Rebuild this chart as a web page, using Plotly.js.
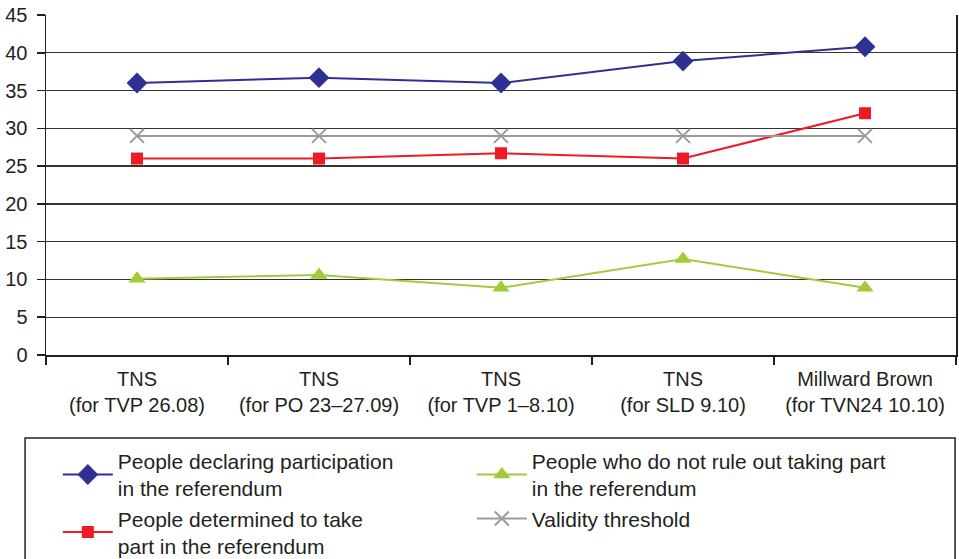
<!DOCTYPE html>
<html>
<head>
<meta charset="utf-8">
<script src="https://cdn.plot.ly/plotly-3.0.1.min.js"></script>
<style>html,body{margin:0;padding:0;background:#fff;}#chart{width:959px;height:559px;}</style>
</head>
<body>
<div id="chart"></div>
<script>
var categories = ["TNS<br>(for TVP 26.08)", "TNS<br>(for PO 23–27.09)", "TNS<br>(for TVP 1–8.10)", "TNS<br>(for SLD 9.10)", "Millward Brown<br>(for TVN24 10.10)"];
var declaring = [36, 36.7, 36, 38.9, 40.8];
var determined = [26, 26, 26.7, 26, 32];
var notRuleOut = [10.1, 10.6, 8.9, 12.7, 8.9];
var threshold = [29, 29, 29, 29, 29];
var yTicks = [0, 5, 10, 15, 20, 25, 30, 35, 40, 45];

var traces = [
  {x: categories, y: declaring, name: "People declaring participation<br>in the referendum", mode: "lines+markers",
   line: {color: "#2e3192", width: 2}, marker: {symbol: "diamond", size: 16, color: "#2e3192"}},
  {x: categories, y: notRuleOut, name: "People who do not rule out taking part<br>in the referendum", mode: "lines+markers",
   line: {color: "#a2cb3a", width: 2}, marker: {symbol: "triangle-up", size: 15, color: "#a2cb3a"}},
  {x: categories, y: determined, name: "People determined to take<br>part in the referendum", mode: "lines+markers",
   line: {color: "#ed1c24", width: 2}, marker: {symbol: "square", size: 12, color: "#ed1c24"}},
  {x: categories, y: threshold, name: "Validity threshold", mode: "lines+markers",
   line: {color: "#9b9b9b", width: 2}, marker: {symbol: "x-thin-open", size: 14, color: "#9b9b9b", line: {color: "#9b9b9b", width: 2}}}
];

var layout = {
  width: 959, height: 559,
  margin: {l: 46, r: 3, t: 15, b: 204, autoexpand: false},
  paper_bgcolor: "#fff", plot_bgcolor: "#fff",
  font: {family: "Liberation Sans, Arial, sans-serif", size: 20, color: "#231f20"},
  showlegend: true,
  xaxis: {type: "category", range: [-0.5, 4.5], showgrid: false, showline: true, linecolor: "#231f20", linewidth: 1.5,
          ticks: "outside", tickson: "boundaries", ticklen: 8, tickwidth: 1.5, tickcolor: "#231f20",
          ticklabelstandoff: 5, tickfont: {size: 20}, automargin: false, fixedrange: true},
  yaxis: {range: [0, 45], tickvals: yTicks, showgrid: true, gridcolor: "#333", gridwidth: 1.3,
          showline: true, linecolor: "#231f20", linewidth: 1.5, mirror: true,
          ticks: "outside", ticklen: 8, tickwidth: 1.5, tickcolor: "#231f20", zeroline: false,
          ticklabelstandoff: 5, tickfont: {size: 20}, automargin: false, fixedrange: true},
  legend: {orientation: "h", x: 0.013, xanchor: "left", y: -0.252, yanchor: "top",
           entrywidth: 349, itemwidth: 50, tracegroupgap: 0, bgcolor: "rgba(0,0,0,0)",
           font: {family: "Liberation Sans, Arial, sans-serif", size: 21, color: "#231f20"}},
  shapes: [
    {type: "rect", xref: "paper", yref: "paper", x0: -0.023, x1: 0.999, y0: -0.244, y1: -0.7,
     line: {color: "#231f20", width: 1.5}, fillcolor: "rgba(0,0,0,0)"}
  ]
};

Plotly.newPlot("chart", traces, layout, {displayModeBar: false, staticPlot: true});
</script>
</body>
</html>
